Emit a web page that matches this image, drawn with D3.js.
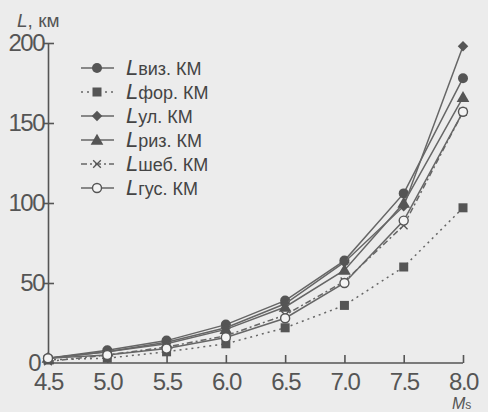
<!DOCTYPE html>
<html>
<head>
<meta charset="utf-8">
<script src="https://cdn.jsdelivr.net/npm/d3@7"></script>
<style>
  body { margin: 0; background: #ececec; }
  svg { display: block; font-family: "Liberation Sans", Arial, sans-serif; }
</style>
</head>
<body>
<script>
// magnitudes
var magnitudes = [4.5, 5.0, 5.5, 6.0, 6.5, 7.0, 7.5, 8.0];
var yTicks = [0, 50, 100, 150, 200];

// L values, km
var lViz = [3, 8, 14, 24, 39, 64, 106, 178];
var lFor = [2, 3, 7, 12, 22, 36, 60, 97];
var lUl  = [3, 7, 13, 22, 37, 63, 98, 198];
var lRiz = [3, 7, 12, 21, 35, 58, 100, 166];
var lSheb = [1, 5, 10, 17, 30, 51, 86, 157];
var lGus = [3, 5, 9, 16, 28, 50, 89, 157];

var seriesNames = ["виз.", "фор.", "ул.", "риз.", "шеб.", "гус."];
var seriesData = [lViz, lFor, lUl, lRiz, lSheb, lGus];
var symbols = ["circle", "square", "diamond", "triangle", "cross", "open"];
var dashes = [null, "2,4", null, null, "6,3,2,3", null];

var W = 488, H = 412;
var ink = "#555";

var svg = d3.select("body").append("svg")
    .attr("width", W).attr("height", H);

var x = d3.scaleLinear().domain([4.5, 8.0]).range([48, 463]);
var y = d3.scaleLinear().domain([0, 200]).range([363, 43]);

// axes
var xAxis = d3.axisBottom(x).tickValues(magnitudes).tickSize(-8).tickPadding(10)
    .tickFormat(d3.format(".1f"));
var gx = svg.append("g").attr("transform", "translate(0,363)").call(xAxis);
gx.select(".domain").attr("d", "M48,0H463");

var yAxis = d3.axisLeft(y).tickValues(yTicks).tickSize(0).tickPadding(4);
var gy = svg.append("g").attr("transform", "translate(48,0)").call(yAxis);
gy.selectAll(".tick line").attr("x1", -4).attr("x2", 6);

[gx, gy].forEach(function(g) {
  g.selectAll("path, line").attr("stroke", ink).attr("stroke-width", 1.6);
  g.selectAll("text").attr("fill", ink).attr("font-size", 24)
    .attr("letter-spacing", -1.5).attr("font-family", "Liberation Sans, Arial, sans-serif");
});
gx.selectAll("text").attr("dy", "0.71em");
gy.selectAll(".tick").filter(function(d) { return d === 0; }).select("text")
  .attr("dy", "0.3em").attr("dx", -4);

// axis titles
var yl = svg.append("text").attr("x", 17).attr("y", 27).attr("fill", ink).attr("font-size", 19);
yl.append("tspan").attr("font-style", "italic").text("L");
yl.append("tspan").text(", км");

var xl = svg.append("text").attr("x", 452).attr("y", 409).attr("fill", ink);
xl.append("tspan").attr("font-style", "italic").attr("font-size", 16).text("M");
xl.append("tspan").attr("font-size", 12).text("s");

// lines
var line = d3.line()
    .x(function(d, i) { return x(magnitudes[i]); })
    .y(function(d) { return y(d); });

function marker(g, type, cx, cy) {
  if (type === "circle") {
    g.append("circle").attr("cx", cx).attr("cy", cy).attr("r", 5).attr("fill", ink);
  } else if (type === "open") {
    g.append("circle").attr("cx", cx).attr("cy", cy).attr("r", 4.5)
      .attr("fill", "#f4f4f4").attr("stroke", ink).attr("stroke-width", 1.4);
  } else if (type === "square") {
    g.append("rect").attr("x", cx - 4.5).attr("y", cy - 4.5).attr("width", 9).attr("height", 9).attr("fill", ink);
  } else if (type === "diamond") {
    g.append("path").attr("d", d3.symbol(d3.symbolDiamond2, 70)()).attr("transform", "translate(" + cx + "," + cy + ")").attr("fill", ink);
  } else if (type === "triangle") {
    g.append("path").attr("d", d3.symbol(d3.symbolTriangle, 70)()).attr("transform", "translate(" + cx + "," + (cy + 1) + ")").attr("fill", ink);
  } else if (type === "cross") {
    g.append("path").attr("d", d3.symbol(d3.symbolX, 40)()).attr("transform", "translate(" + cx + "," + cy + ")")
      .attr("fill", "none").attr("stroke", ink).attr("stroke-width", 1.3);
  }
}

seriesData.forEach(function(vals, k) {
  var g = svg.append("g");
  g.append("path").attr("d", line(vals)).attr("fill", "none")
    .attr("stroke", "#666").attr("stroke-width", 1.5)
    .attr("stroke-dasharray", dashes[k]);
  vals.forEach(function(v, i) { marker(g, symbols[k], x(magnitudes[i]), y(v)); });
});

// legend
var legend = svg.append("g");
seriesNames.forEach(function(name, k) {
  var ly = 68 + k * 24;
  legend.append("line").attr("x1", 81).attr("x2", 114).attr("y1", ly).attr("y2", ly)
    .attr("stroke", "#666").attr("stroke-width", 1.5).attr("stroke-dasharray", dashes[k]);
  marker(legend, symbols[k], 97, ly);
  var t = legend.append("text").attr("x", 126).attr("y", ly + 7).attr("fill", "#444");
  t.append("tspan").attr("font-style", "italic").attr("font-size", 22).text("L");
  t.append("tspan").attr("font-size", 18).text(name + " КМ");
});
</script>
</body>
</html>
